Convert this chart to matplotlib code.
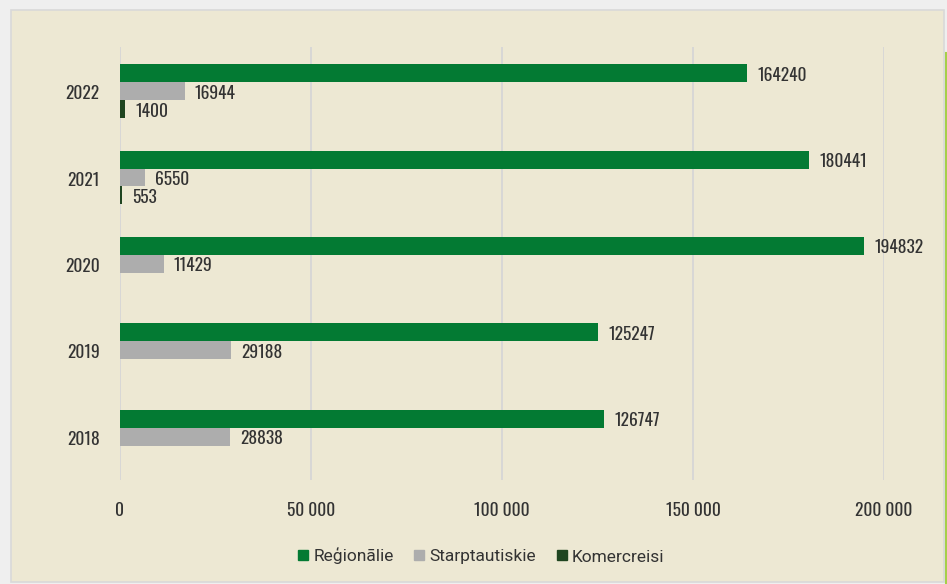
import numpy as np
import matplotlib
matplotlib.use("Agg")
import matplotlib.pyplot as plt
import matplotlib.transforms as mtransforms
from matplotlib.patches import Rectangle
from matplotlib.lines import Line2D

years = ["2018", "2019", "2020", "2021", "2022"]
series_names = ["Reģionālie", "Starptautiskie", "Komercreisi"]
regionalie = [126747, 125247, 194832, 180441, 164240]
starptautiskie = [28838, 29188, 11429, 6550, 16944]
komercreisi = [np.nan, np.nan, np.nan, 553, 1400]
x_ticks = [0, 50000, 100000, 150000, 200000]
x_tick_labels = ["0", "50 000", "100 000", "150 000", "200 000"]

colors = ["#037a33", "#adadad", "#1f4520"]
NARROW = ["Oswald", "Roboto Condensed", "DejaVu Sans"]
FS = 12.5

fig = plt.figure(figsize=(9.47, 5.84), dpi=100)
fig.patch.set_facecolor("#efefef")
W, H = 947, 584
# panel
fig.patches.append(Rectangle((11 / W, 1 - 582 / H), (944 - 11) / W, (582 - 10) / H,
                             transform=fig.transFigure, facecolor="#ede8d3",
                             edgecolor="#d9d9d9", linewidth=1.2, zorder=-2))
fig.lines.append(Line2D([946 / W, 946 / W], [0, 1 - 53 / H], transform=fig.transFigure,
                        color="#a6cf4a", linewidth=1.5, zorder=-1))

ax = fig.add_axes([120 / W, 1 - 480 / H, (884 - 120) / W, (480 - 47) / H])
ax.set_zorder(2)
ax.set_facecolor("none")
for s in ax.spines.values():
    s.set_visible(False)

y = np.arange(len(years))
h = 0.208
data = [regionalie, starptautiskie, komercreisi]
offsets = [h, 0, -h]
for vals, off, c in zip(data, offsets, colors):
    v = np.array(vals, dtype=float)
    mask = ~np.isnan(v)
    ax.barh(y[mask] + off, v[mask], height=h, color=c, zorder=3)
    for yi, vi in zip(y[mask] + off, v[mask]):
        ax.annotate(f"{int(vi)}", xy=(vi, yi), xytext=(10, -2), textcoords="offset pixels",
                    ha="left", va="center", fontsize=FS, family=NARROW,
                    color="#333333", annotation_clip=False)

ax.set_xlim(0, 200000)
ax.set_ylim(-0.5, 4.51)
ax.set_xticks(x_ticks)
ax.set_xticklabels(x_tick_labels, family=NARROW, fontsize=FS, color="#333333")
ax.set_yticks(y)
ax.set_yticklabels(years, family=NARROW, fontsize=FS, color="#333333")
ax.tick_params(axis="both", length=0)
ax.tick_params(axis="x", pad=16)
ax.tick_params(axis="y", pad=14.5)
ax.grid(axis="x", color="#d6d6d6", linewidth=1.3, zorder=1)
ax.set_axisbelow(True)
shift = mtransforms.ScaledTranslation(0, -1 / 100, fig.dpi_scale_trans)
for lbl in ax.get_yticklabels():
    lbl.set_transform(lbl.get_transform() + shift)

handles = [Line2D([], [], marker="s", linestyle="none", markersize=6.5,
                  markerfacecolor=c, markeredgecolor=c) for c in colors]
leg = fig.legend(handles, series_names, loc="center", bbox_to_anchor=(480 / W, 1 - 556 / H),
                 ncol=3, frameon=False, prop={"family": "Roboto", "size": 12.5},
                 handletextpad=0.15, columnspacing=1.0, handlelength=0.9,
                 labelcolor="#333333")
leg.set_zorder(3)

fig.savefig("out.png", dpi=100, facecolor=fig.get_facecolor())
